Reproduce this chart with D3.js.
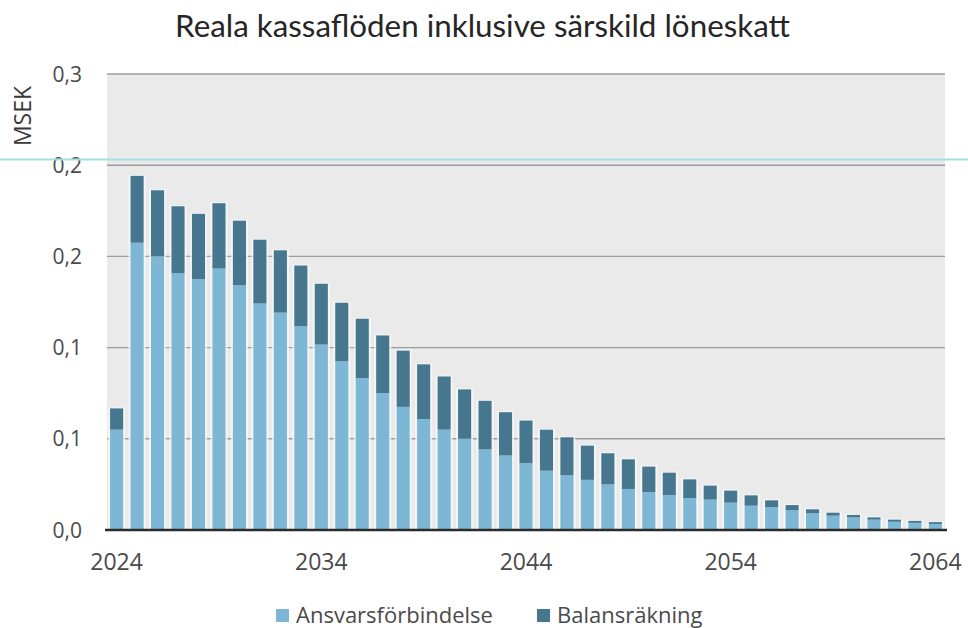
<!DOCTYPE html>
<html>
<head>
<meta charset="utf-8">
<script src="https://cdn.jsdelivr.net/npm/d3@7"></script>
<style>
  html, body { margin: 0; padding: 0; background: #ffffff; }
  svg { display: block; }
</style>
</head>
<body>
<svg id="chart" width="968" height="628"></svg>
<script>
// Years on the x axis
const years = d3.range(2024, 2065);

// Ansvarsförbindelse (MSEK), lower segment
const ansvarsforbindelse = [
  0.066, 0.189, 0.180, 0.169, 0.165, 0.172, 0.161, 0.149, 0.143, 0.134,
  0.122, 0.111, 0.100, 0.090, 0.081, 0.073, 0.066, 0.060, 0.053, 0.049,
  0.044, 0.039, 0.036, 0.033, 0.030, 0.027, 0.025, 0.023, 0.021, 0.020,
  0.018, 0.016, 0.015, 0.013, 0.011, 0.0094, 0.0083, 0.0068, 0.0054, 0.0047,
  0.0040
];

// Balansräkning (MSEK), upper segment
const balansrakning = [
  0.014, 0.044, 0.0435, 0.044, 0.043, 0.043, 0.0425, 0.042, 0.041, 0.040,
  0.040, 0.0385, 0.039, 0.038, 0.037, 0.036, 0.035, 0.0325, 0.032, 0.0285,
  0.028, 0.027, 0.025, 0.0225, 0.0205, 0.0195, 0.0167, 0.0147, 0.0123, 0.0092,
  0.0079, 0.0068, 0.0045, 0.0034, 0.0026, 0.0020, 0.0016, 0.0015, 0.0014, 0.0013,
  0.0012
];

const seriesNames = ["Ansvarsförbindelse", "Balansräkning"];
const seriesColors = ["#7db7d5", "#46778f"];

const yTicks = [0, 0.06, 0.12, 0.18, 0.24, 0.30];
const xTickYears = [2024, 2034, 2044, 2054, 2064];

const titleText = "Reala kassaflöden inklusive särskild löneskatt";
const yAxisTitle = "MSEK";

// Layout
const plot = { left: 107, right: 945, top: 74, bottom: 530 };

const svg = d3.select("#chart");

const x = d3.scaleBand()
  .domain(years)
  .range([plot.left, plot.right])
  .paddingInner(0.36)
  .paddingOuter(0.15);

const y = d3.scaleLinear()
  .domain([0, 0.30])
  .range([plot.bottom, plot.top]);

const fmt = v => d3.format(".1f")(v).replace(".", ",");

// Plot background
svg.append("rect")
  .attr("x", plot.left)
  .attr("y", plot.top)
  .attr("width", plot.right - plot.left)
  .attr("height", plot.bottom - plot.top)
  .attr("fill", "#eaeaeb");

// Gridlines
svg.append("g")
  .selectAll("line")
  .data(yTicks.filter(d => d > 0))
  .join("line")
  .attr("x1", plot.left)
  .attr("x2", plot.right)
  .attr("y1", d => y(d))
  .attr("y2", d => y(d))
  .attr("stroke", "#9c9c9c")
  .attr("stroke-width", 1.4);

// Stack the two series
const table = years.map((yr, i) => ({
  year: yr,
  [seriesNames[0]]: ansvarsforbindelse[i],
  [seriesNames[1]]: balansrakning[i]
}));
const stacked = d3.stack().keys(seriesNames)(table);

// Light halo behind each column
svg.append("g")
  .selectAll("rect")
  .data(table)
  .join("rect")
  .attr("x", d => x(d.year) - 2)
  .attr("width", x.bandwidth() + 4)
  .attr("y", d => y(d[seriesNames[0]] + d[seriesNames[1]]) - 1)
  .attr("height", d => plot.bottom - y(d[seriesNames[0]] + d[seriesNames[1]]) + 1)
  .attr("fill", "#f7f9fa")
  .attr("opacity", 0.75);

// Stacked bars
svg.append("g")
  .selectAll("g")
  .data(stacked)
  .join("g")
  .attr("fill", (d, i) => seriesColors[i])
  .selectAll("rect")
  .data(d => d)
  .join("rect")
  .attr("x", d => x(d.data.year))
  .attr("width", x.bandwidth())
  .attr("y", d => y(d[1]))
  .attr("height", d => y(d[0]) - y(d[1]));

// Baseline
svg.append("line")
  .attr("x1", plot.left - 2)
  .attr("x2", plot.right + 2)
  .attr("y1", y(0))
  .attr("y2", y(0))
  .attr("stroke", "#2b2b2b")
  .attr("stroke-width", 2.5);

// Y tick labels
svg.append("g")
  .selectAll("text")
  .data(yTicks)
  .join("text")
  .attr("x", 82)
  .attr("y", d => y(d))
  .attr("dy", "0.36em")
  .attr("text-anchor", "end")
  .attr("font-family", "'Open Sans', 'Noto Sans', sans-serif")
  .attr("font-size", 21)
  .attr("fill", "#4a4a4a")
  .text(d => fmt(d));

// X tick labels
svg.append("g")
  .selectAll("text")
  .data(xTickYears)
  .join("text")
  .attr("x", d => x(d) + x.bandwidth() / 2)
  .attr("y", 570)
  .attr("text-anchor", "middle")
  .attr("font-family", "'Open Sans', 'Noto Sans', sans-serif")
  .attr("font-size", 23)
  .attr("fill", "#4a4a4a")
  .text(d => d);

// Y axis title
svg.append("text")
  .attr("transform", "translate(31,116) rotate(-90)")
  .attr("text-anchor", "middle")
  .attr("font-family", "'Open Sans', 'Noto Sans', sans-serif")
  .attr("font-size", 23)
  .attr("fill", "#3a3a3a")
  .text(yAxisTitle);

// Title, set in a narrow cut
svg.append("text")
  .attr("x", 175)
  .attr("y", 37)
  .attr("font-family", "Lato, 'Open Sans', sans-serif")
  .attr("font-size", 30)
  .attr("fill", "#262626")
  .attr("textLength", 615)
  .attr("lengthAdjust", "spacingAndGlyphs")
  .text(titleText);

// Thin cyan rule across the page
svg.append("line")
  .attr("x1", 0)
  .attr("x2", 968)
  .attr("y1", 159.5)
  .attr("y2", 159.5)
  .attr("stroke", "#a6dfe0")
  .attr("stroke-width", 2);

// Legend
const legendItems = [
  { name: seriesNames[0], color: seriesColors[0], x: 276 },
  { name: seriesNames[1], color: seriesColors[1], x: 537 }
];
const legend = svg.append("g");
legend.selectAll("rect")
  .data(legendItems)
  .join("rect")
  .attr("x", d => d.x)
  .attr("y", 609)
  .attr("width", 13)
  .attr("height", 13)
  .attr("fill", d => d.color);
legend.selectAll("text")
  .data(legendItems)
  .join("text")
  .attr("x", d => d.x + 20)
  .attr("y", 623)
  .attr("font-family", "'Open Sans', 'Noto Sans', sans-serif")
  .attr("font-size", 22)
  .attr("fill", "#4a4a4a")
  .text(d => d.name);
</script>
</body>
</html>
